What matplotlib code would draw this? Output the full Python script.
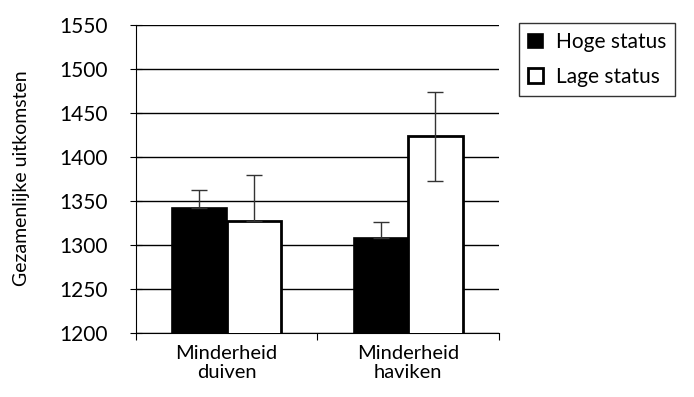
import numpy as np
import matplotlib.pyplot as plt

groups = ['Minderheid\nduiven', 'Minderheid\nhaviken']
series = ['Hoge status', 'Lage status']
hoge = [1342, 1308]
lage = [1327, 1423]
hoge_err = [20, 18]
lage_err_low = [0, 51]
lage_err_up = [52, 51]
yticks = [1200, 1250, 1300, 1350, 1400, 1450, 1500, 1550]

plt.rcParams['font.family'] = ['Lato', 'DejaVu Sans']

fig = plt.figure(figsize=(6.94, 3.97), dpi=100)
ax = fig.add_axes([0.1955, 0.162, 0.5235, 0.776])

x = np.arange(len(groups)) + 0.5
w = 0.3
ax.bar(x - w/2, hoge, w, color='black', edgecolor='black', lw=1.2,
       label=series[0], zorder=3)
ax.bar(x + w/2, lage, w, color='white', edgecolor='black', lw=2,
       label=series[1], zorder=3)
ax.errorbar(x - w/2, hoge, yerr=[[0, 0], hoge_err], fmt='none', ecolor='#333333',
            elinewidth=1, capsize=6, capthick=1, zorder=4)
ax.errorbar(x + w/2, lage, yerr=[lage_err_low, lage_err_up], fmt='none',
            ecolor='#333333', elinewidth=1, capsize=6, capthick=1, zorder=4)

ax.set_ylim(1200, 1550)
ax.set_xlim(0, 2)
ax.set_yticks(yticks)
ax.set_yticklabels([str(v) for v in yticks], fontsize=15)
ax.yaxis.grid(True, color='black', lw=1)
ax.set_axisbelow(True)
ax.set_xticks([0, 1, 2])
ax.set_xticklabels([])
ax.set_xticks(x, minor=True)
ax.set_xticklabels(groups, minor=True, fontsize=14.5, linespacing=1.1)
ax.tick_params(axis='x', which='minor', length=0, pad=9)
ax.tick_params(axis='x', which='major', direction='out', length=5)
ax.tick_params(axis='y', direction='inout', length=8, pad=16)
for s in ['top', 'right']:
    ax.spines[s].set_visible(False)
ax.set_ylabel('Gezamenlijke uitkomsten', fontsize=14)
ax.yaxis.set_label_coords(-0.29, 0.5)

fig.legend(loc='upper left', bbox_to_anchor=(0.748, 0.942), fontsize=15,
           borderaxespad=0, frameon=True, fancybox=False, edgecolor='black',
           handlelength=0.7, handleheight=0.7, handletextpad=0.6,
           borderpad=0.45, labelspacing=0.7)

fig.savefig('out.png', dpi=100)
